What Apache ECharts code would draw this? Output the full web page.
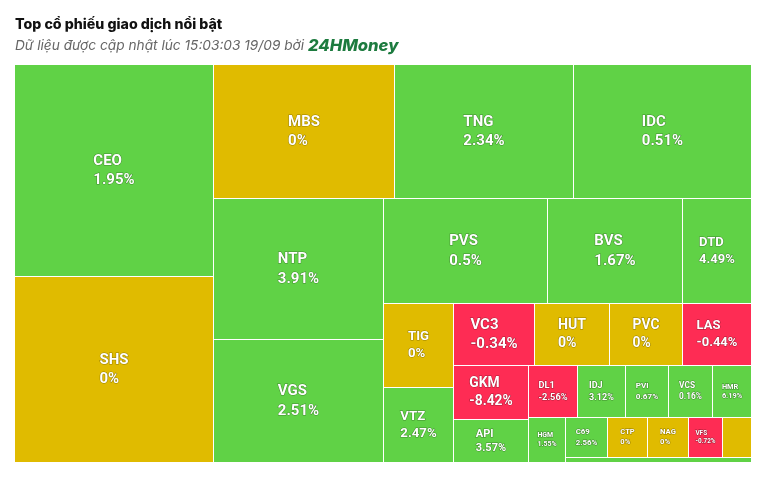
<!DOCTYPE html>
<html>
<head>
<meta charset="utf-8">
<script src="https://cdn.jsdelivr.net/npm/echarts@6/dist/echarts.min.js"></script>
<style>
html,body{margin:0;padding:0;background:#fff;}
#chart{width:774px;height:482px;}
</style>
</head>
<body>
<div id="chart"></div>
<script>
// ---- data ----
const tickers = ['CEO','SHS','MBS','TNG','IDC','NTP','VGS','PVS','BVS','DTD','TIG','VTZ','VC3','HUT','PVC','LAS','GKM','API','DL1','IDJ','PVI','VCS','HMR','HGM','C69','CTP','NAG','VFS','',''];
const tradeValues = [42100,37100,24200,24100,23800,23950,21000,17200,14150,7250,5850,5250,5020,4650,4520,4280,4050,3230,2550,2500,2250,2270,2030,1660,1700,1590,1620,1380,1150,930];
const pctChanges = [1.95,0,0,2.34,0.51,3.91,2.51,0.5,1.67,4.49,0,2.47,-0.34,0,0,-0.44,-8.42,3.57,-2.56,3.12,0.67,0.16,6.19,1.55,2.56,0,0,-0.72,0,1.2];

const PLOT_W = 737, PLOT_H = 398;
const UP = '#60d246', FLAT = '#e0bb00', DOWN = '#fe2c54';

// Squarified layout with alternating direction (value driven)
function squarified(vals, W, H) {
  const total = vals.reduce((a, b) => a + b, 0);
  const rects = [];
  const plot = { x: 0, y: 0 };
  const g = { height: H, width: W, direction: 0, total: 0, nW: 0, lW: 0, nH: 0, lH: 0, elArr: [],
              lP: { total: 0, lH: 0, nH: 0, lW: 0, nW: 0, nR: 0, lR: 0 } };
  const ar = (w, h) => Math.max(w / h, h / w);
  function add(el) {
    g.lP.total = g.elArr[g.elArr.length - 1];
    g.total += el;
    if (g.direction === 0) {
      g.lW = g.nW; g.lP.lH = g.lP.total / g.lW; g.lP.lR = ar(g.lW, g.lP.lH);
      g.nW = g.total / g.height; g.lP.nH = g.lP.total / g.nW; g.lP.nR = ar(g.nW, g.lP.nH);
    } else {
      g.lH = g.nH; g.lP.lW = g.lP.total / g.lH; g.lP.lR = ar(g.lP.lW, g.lH);
      g.nH = g.total / g.width; g.lP.nW = g.lP.total / g.nH; g.lP.nR = ar(g.lP.nW, g.nH);
    }
    g.elArr.push(el);
  }
  function calc(last) {
    let gW = g.lW, gH = g.lH, keep;
    if (last) { gW = g.nW; gH = g.nH; } else { keep = g.elArr[g.elArr.length - 1]; }
    const end = g.elArr.length - 1;
    g.elArr.forEach((p, i) => {
      if (last || i < end) {
        let w, h;
        if (g.direction === 0) { w = gW; h = p / w; } else { h = gH; w = p / h; }
        rects.push({ x: plot.x, y: plot.y, w: w, h: h });
        if (g.direction === 0) plot.y += h; else plot.x += w;
      }
    });
    g.nW = 0; g.lW = 0; g.elArr = []; g.total = 0;
    if (g.direction === 0) g.width -= gW; else g.height -= gH;
    plot.y = H - g.height; plot.x = W - g.width;
    g.direction = 1 - g.direction;
    if (!last) add(keep);
  }
  vals.forEach((v, i) => {
    add(W * H * v / total);
    if (g.lP.nR > g.lP.lR) calc(false);
    if (i === vals.length - 1) calc(true);
  });
  return rects;
}

const rects = squarified(tradeValues, PLOT_W, PLOT_H);
const seriesData = rects.map((r, i) => [r.x, r.y, r.w, r.h, i]);

const measureCtx = document.createElement('canvas').getContext('2d');
function colorOf(c) { return c > 0 ? UP : (c < 0 ? DOWN : FLAT); }
function fmtPct(c) { return String(c) + '%'; }

const chart = echarts.init(document.getElementById('chart'), null, { renderer: 'canvas' });
chart.setOption({
  animation: false,
  backgroundColor: '#ffffff',
  title: {
    left: 15, top: 18, padding: 0, itemGap: 5,
    text: 'Top cổ phiếu giao dịch nổi bật',
    textStyle: { fontFamily: 'Inter', fontWeight: 800, fontSize: 14.2, color: '#111111' },
    subtext: '{a|Dữ liệu được cập nhật lúc 15:03:03 19/09 bởi }{b|24HMoney}',
    subtextStyle: {
      rich: {
        a: { fontFamily: 'Inter', fontStyle: 'italic', fontSize: 13.7, color: '#666666' },
        b: { fontFamily: 'Inter', fontStyle: 'italic', fontWeight: 800, fontSize: 16.6, color: '#1d7b3f' }
      }
    }
  },
  grid: { left: 15, top: 65, width: PLOT_W, height: PLOT_H, containLabel: false },
  xAxis: { type: 'value', min: 0, max: PLOT_W, show: false },
  yAxis: { type: 'value', min: 0, max: PLOT_H, inverse: true, show: false },
  series: [{
    type: 'custom',
    clip: false,
    data: seriesData,
    encode: { x: 0, y: 1 },
    renderItem: function (params, api) {
      const x = api.value(0), y = api.value(1), w = api.value(2), h = api.value(3), i = api.value(4);
      const a = api.coord([x, y]), b = api.coord([x + w, y + h]);
      const X0 = Math.round(Math.min(a[0], b[0])), X1 = Math.round(Math.max(a[0], b[0]));
      const Y0 = Math.round(Math.min(a[1], b[1])), Y1 = Math.round(Math.max(a[1], b[1]));
      const cw = X1 - X0, ch = Y1 - Y0;
      const children = [{
        type: 'rect',
        shape: { x: X0, y: Y0, width: Math.max(cw - 1, 0), height: Math.max(ch - 1, 0) },
        style: { fill: colorOf(pctChanges[i]) }
      }];
      const fs = Math.min(15, cw / 5.3, ch / 3.9);
      if (fs >= 6 && tickers[i]) {
        const l1 = tickers[i], l2 = fmtPct(pctChanges[i]);
        const font = 'bold ' + fs.toFixed(2) + 'px Roboto';
        measureCtx.font = font;
        const bw = Math.max(measureCtx.measureText(l1).width, measureCtx.measureText(l2).width);
        children.push({
          type: 'text',
          style: {
            text: l1 + '\n' + l2,
            x: X0 + (cw - 1) / 2 - bw / 2,
            y: Y0 + (ch - 1) / 2,
            font: font,
            fill: '#ffffff',
            align: 'left',
            verticalAlign: 'middle',
            lineHeight: fs * 1.3,
            stroke: 'rgba(0,0,0,0.35)',
            lineWidth: 1
          }
        });
      }
      return { type: 'group', children: children };
    }
  }]
});
</script>
</body>
</html>
